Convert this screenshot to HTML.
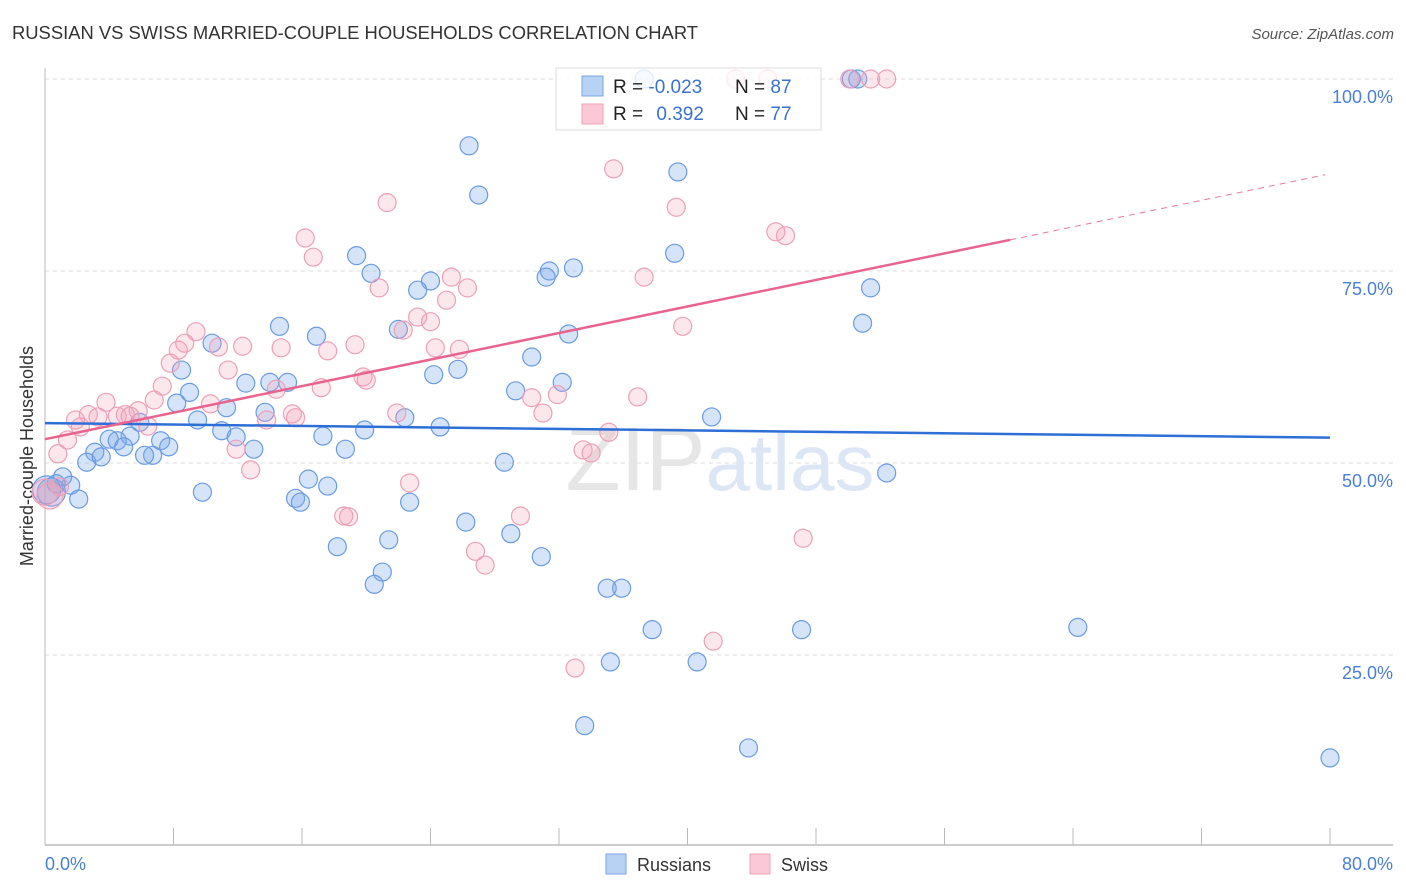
<!DOCTYPE html>
<html><head><meta charset="utf-8">
<style>
body{margin:0;background:#fff;font-family:"Liberation Sans",sans-serif;}
#wrap{position:relative;width:1406px;height:892px;overflow:hidden;}
svg text{font-family:"Liberation Sans",sans-serif;}
</style></head>
<body>
<div id="wrap">
<svg id="chart" width="1406" height="892">
  <text x="12" y="39" font-size="18.4" fill="#333">RUSSIAN VS SWISS MARRIED-COUPLE HOUSEHOLDS CORRELATION CHART</text>
  <text x="1394" y="39" font-size="15" fill="#555" font-style="italic" text-anchor="end">Source: ZipAtlas.com</text>
  <text x="33" y="456" font-size="18" fill="#333" text-anchor="middle" transform="rotate(-90 33 456)">Married-couple Households</text>
  <g id="grid"></g>
  <text x="720" y="490" font-size="90" fill="#e6e6e6" text-anchor="middle" font-family="Liberation Serif">ZIP<tspan fill="#dce6f5" font-family="Liberation Sans" font-size="80">atlas</tspan></text>
  <g id="axes"></g>
  <g id="pts"></g>
  <g id="trends"></g>
  <g>
    <rect x="556" y="68" width="265" height="62" fill="rgba(255,255,255,0.8)" stroke="#ddd"/>
    <rect x="582" y="76" width="21" height="20" fill="#b8d2f4" stroke="#7aa6e0"/>
    <rect x="582" y="104" width="21" height="20" fill="#fbc8d7" stroke="#eea3ba"/>
    <text x="613" y="93" font-size="19" fill="#222">R = <tspan fill="#3a72d0">-0.023</tspan></text>
    <text x="735" y="93" font-size="19" fill="#222">N = <tspan fill="#3a72d0">87</tspan></text>
    <text x="613" y="120" font-size="19" fill="#222">R = <tspan fill="#3a72d0" dx="8">0.392</tspan></text>
    <text x="735" y="120" font-size="19" fill="#222">N = <tspan fill="#3a72d0">77</tspan></text>
  </g>
  <g>
    <rect x="606" y="854" width="20" height="20" fill="#b8d2f4" stroke="#7aa6e0"/>
    <text x="637" y="871" font-size="18" fill="#333">Russians</text>
    <rect x="750" y="854" width="20" height="20" fill="#fbc8d7" stroke="#eea3ba"/>
    <text x="781" y="871" font-size="18" fill="#333">Swiss</text>
  </g>
</svg>
</div>
<script>
const xTicks=[0,8,16,24,32,40,48,56,64,72,80];
const yTicks=[25,50,75,100];
const yTickLabels=["25.0%","50.0%","75.0%","100.0%"];
const xEndLabels=["0.0%","80.0%"];
const russX=[37.3,26.4,27.0,39.4,39.2,19.4,20.3,31.4,32.9,31.2,24.0,23.2,51.4,50.9,14.6,16.9,22.0,32.6,30.3,25.7,24.2,8.5,10.4,12.5,14.0,15.1,32.2,29.3,9.0,8.2,11.3,13.7,22.4,41.5,9.5,5.9,11.0,11.9,17.3,19.9,24.6,5.3,4.0,4.5,7.2,7.7,3.1,4.9,6.7,6.2,2.6,3.5,13.0,18.7,28.6,52.4,1.1,1.6,0.7,0.4,2.1,9.8,16.4,17.6,15.6,15.9,22.7,26.2,29.0,18.2,21.4,30.9,21.0,20.5,35.0,35.9,37.8,47.1,64.3,35.2,40.6,33.6,43.8,80.0,50.2,50.6,0.1];
const russY=[100,91.3,84.9,87.9,77.3,77.0,74.7,75.0,75.4,74.2,73.7,72.5,72.8,68.2,67.8,66.5,67.4,66.8,63.8,62.2,61.5,62.1,65.6,60.4,60.5,60.5,60.5,59.4,59.2,57.8,57.2,56.6,55.9,56.0,55.6,55.3,54.2,53.4,53.5,54.3,54.7,53.5,53.1,52.9,52.9,52.1,51.4,52.1,51.0,51.0,50.1,50.8,51.8,51.8,50.1,48.7,48.2,47.1,47.3,46.2,45.3,46.2,47.9,47.0,45.4,44.9,44.9,42.3,40.8,39.1,40.0,37.8,35.8,34.2,33.7,33.7,28.3,28.3,28.6,24.1,24.1,15.8,12.9,11.6,100,100,46.5];
const swissX=[43.0,45.0,50.1,51.4,52.4,35.4,21.3,39.3,45.5,46.1,16.2,16.7,25.3,37.3,20.8,26.3,25.0,23.2,24.0,39.7,22.3,9.4,8.7,8.3,10.8,12.3,14.7,17.6,19.3,24.3,25.8,7.8,11.4,7.3,19.8,20.0,17.2,14.4,3.8,6.8,5.8,5.0,10.3,2.7,3.3,1.9,2.2,4.5,5.3,1.4,0.8,6.4,15.4,15.6,21.9,13.8,36.9,30.3,31.9,31.0,11.9,12.8,33.5,34.0,35.1,22.7,18.6,18.9,29.6,26.8,27.4,47.2,41.6,33.0,0.3,0.0,0.9];
const swissY=[100,100,100,100,100,88.3,83.9,83.3,80.1,79.6,79.3,76.8,74.2,74.2,72.8,72.8,71.2,69.0,68.4,67.8,67.3,67.1,65.6,64.7,65.1,65.2,65.0,64.6,65.4,65.0,64.8,63.0,62.1,60.0,61.2,60.8,59.8,59.6,57.9,58.2,56.8,56.3,57.7,56.3,56.0,55.6,54.7,56.1,56.1,53.0,51.2,54.8,56.4,55.9,56.5,55.6,58.6,58.5,58.9,56.5,51.8,49.1,51.7,51.3,54.0,47.4,43.1,43.0,43.1,38.5,36.7,40.2,26.8,23.3,45.7,46.2,46.9];
const russTrend=[55.2,53.3];   // y at x=0 and x=80
const swissTrend=[53.1,0.432]; // intercept, slope
const swissSolidEnd=60.1, swissDashEnd=79.7;

const NS="http://www.w3.org/2000/svg";
const X=v=>45+v*(1285/80);
const Y=v=>847-v*7.68;
function mk(tag,attrs,parent){const e=document.createElementNS(NS,tag);for(const k in attrs)e.setAttribute(k,attrs[k]);parent.appendChild(e);return e;}
const grid=document.getElementById('grid'),axes=document.getElementById('axes'),pts=document.getElementById('pts'),tr=document.getElementById('trends');
yTicks.forEach((t,i)=>{
  const l=mk('line',{x1:45,x2:1393,y1:Y(t),y2:Y(t),stroke:'#dcdcdc','stroke-dasharray':'4,4'},grid);
  
  
  const tx=mk('text',{x:1393,y:Y(t)+24,'font-size':18,fill:'#4a7fd6','text-anchor':'end'},axes);
  tx.textContent=yTickLabels[i];
  
  
});
const ya=mk('line',{x1:45,x2:45,y1:68,y2:845,stroke:'#bbb'},axes);


const xa=mk('line',{x1:45,x2:1393,y1:845,y2:845,stroke:'#bbb','stroke-width':1.5},axes);


xTicks.forEach(t=>{
  const l=mk('line',{x1:X(t),x2:X(t),y1:828,y2:845,stroke:'#bbb'},axes);
  
  
});
[[0,'start',xEndLabels[0]],[80,'end',xEndLabels[1]]].forEach(a=>{
  const t=mk('text',{x:a[0]===0?45:1393,y:870,'font-size':18,fill:'#4a7fd6','text-anchor':a[1]},axes);
  t.textContent=a[2];
  
  
});
russX.forEach((x,i)=>{
  const r=(x<0.5)?14:9;
  const c=mk('circle',{cx:X(x),cy:Y(russY[i]),r:r,fill:'rgba(120,165,235,0.3)',stroke:'#6b9be0','stroke-width':1.2},pts);
  
  
});
swissX.forEach((x,i)=>{
  const r=(x<0.5)?13:9;
  const c=mk('circle',{cx:X(x),cy:Y(swissY[i]),r:r,fill:'rgba(245,160,185,0.25)',stroke:'#eca0b8','stroke-width':1.2},pts);
  
  
});
const bl=mk('line',{x1:X(0),y1:Y(russTrend[0]),x2:X(80),y2:Y(russTrend[1]),stroke:'#2d6fd6','stroke-width':2.5},tr);


const ps=mk('line',{x1:X(0),y1:Y(swissTrend[0]),x2:X(swissSolidEnd),y2:Y(swissTrend[0]+swissTrend[1]*swissSolidEnd),stroke:'#e8648f','stroke-width':2.5},tr);


const pd=mk('line',{x1:X(swissSolidEnd),y1:Y(swissTrend[0]+swissTrend[1]*swissSolidEnd),x2:X(swissDashEnd),y2:Y(swissTrend[0]+swissTrend[1]*swissDashEnd),stroke:'#e8789c','stroke-width':1,'stroke-dasharray':'6,5'},tr);


</script>
</body></html>
